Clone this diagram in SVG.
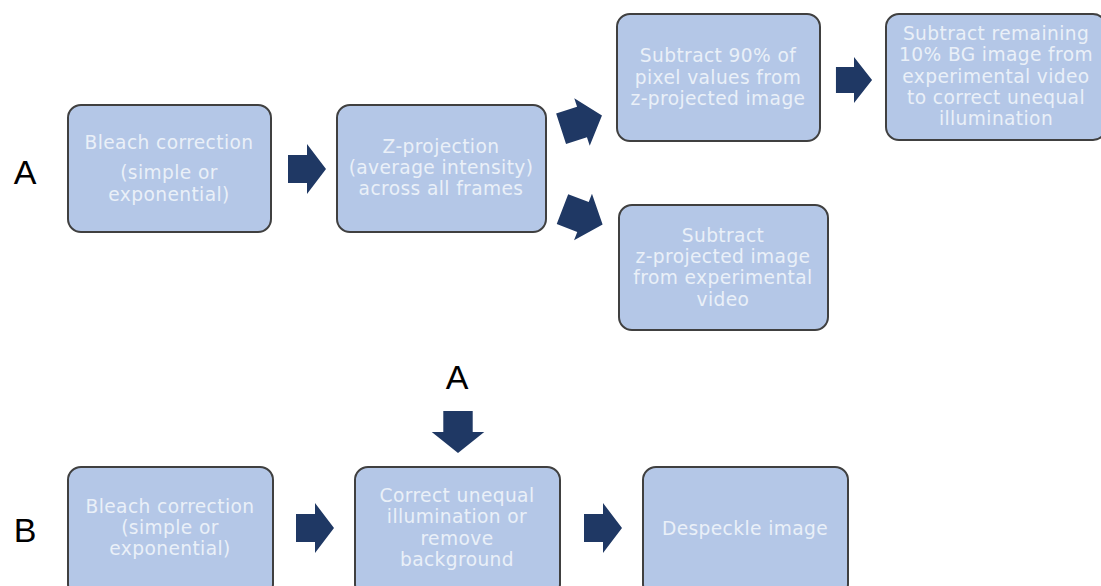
<svg xmlns="http://www.w3.org/2000/svg" width="1101" height="586" viewBox="0 0 1101 586">
<defs>
<path id="arr" d="M-19,-14 L0,-14 L0,-25 L19,0 L0,25 L0,14 L-19,14 Z"/>
</defs>
<style>
.box{fill:#b4c7e7;stroke:#404040;stroke-width:2}
.t{font-family:"DejaVu Sans",Verdana,sans-serif;font-size:18.6px;letter-spacing:0.4px;fill:#eaf0f8;text-anchor:middle}
.lbl{font-family:"Liberation Sans",Arial,sans-serif;font-size:34px;fill:#000;text-anchor:middle}
.a{fill:#1f3864}
</style>
<rect width="1101" height="586" fill="#fff"/>
<text class="lbl" x="25" y="184">A</text>
<text class="lbl" x="457" y="389">A</text>
<text class="lbl" x="25" y="542">B</text>
<g id="n1"><rect class="box" x="68" y="105" width="203" height="127" rx="13"/>
<text class="t" x="169" y="149">Bleach correction</text><text class="t" x="169" y="179">(simple or</text><text class="t" x="169" y="201">exponential)</text></g>
<g id="n2"><rect class="box" x="337" y="105" width="209" height="127" rx="13"/>
<text class="t" x="441" y="153">Z-projection</text><text class="t" x="441" y="174">(average intensity)</text><text class="t" x="441" y="195">across all frames</text></g>
<g id="n3"><rect class="box" x="617" y="14" width="203" height="127" rx="13"/>
<text class="t" x="718" y="62">Subtract 90% of</text><text class="t" x="718" y="84">pixel values from</text><text class="t" x="718" y="105">z-projected image</text></g>
<g id="n4"><rect class="box" x="886" y="14" width="220" height="126" rx="13"/>
<text class="t" x="996" y="40">Subtract remaining</text><text class="t" x="996" y="61">10% BG image from</text><text class="t" x="996" y="83">experimental video</text><text class="t" x="996" y="104">to correct unequal</text><text class="t" x="996" y="125">illumination</text></g>
<g id="n5"><rect class="box" x="619" y="205" width="209" height="125" rx="13"/>
<text class="t" x="723" y="242">Subtract</text><text class="t" x="723" y="263">z-projected image</text><text class="t" x="723" y="284">from experimental</text><text class="t" x="723" y="306">video</text></g>
<g id="n6"><rect class="box" x="68" y="467" width="205" height="130" rx="13"/>
<text class="t" x="170" y="513">Bleach correction</text><text class="t" x="170" y="534">(simple or</text><text class="t" x="170" y="555">exponential)</text></g>
<g id="n7"><rect class="box" x="355" y="467" width="205" height="130" rx="13"/>
<text class="t" x="457" y="502">Correct unequal</text><text class="t" x="457" y="523">illumination or</text><text class="t" x="457" y="545">remove</text><text class="t" x="457" y="566">background</text></g>
<g id="n8"><rect class="box" x="643" y="467" width="205" height="130" rx="13"/>
<text class="t" x="745" y="535">Despeckle image</text></g>
<g id="connectors">
<use href="#arr" class="a" transform="translate(307,169)"/>
<path class="a" d="M-22,-16 L0,-16 L0,-25 L21,0 L0,25 L0,16 L-22,16 Z" transform="translate(582,122) rotate(-18)"/>
<path class="a" d="M-22,-16 L0,-16 L0,-25 L21,0 L0,25 L0,16 L-22,16 Z" transform="translate(583,217) rotate(21)"/>
<use href="#arr" class="a" transform="translate(854,80) scale(0.95,0.92)"/>
<use href="#arr" class="a" transform="translate(315,528)"/>
<use href="#arr" class="a" transform="translate(603,528)"/>
<use href="#arr" class="a" transform="translate(458,432) rotate(90) scale(1.1,1.05)"/>
</g>
</svg>
